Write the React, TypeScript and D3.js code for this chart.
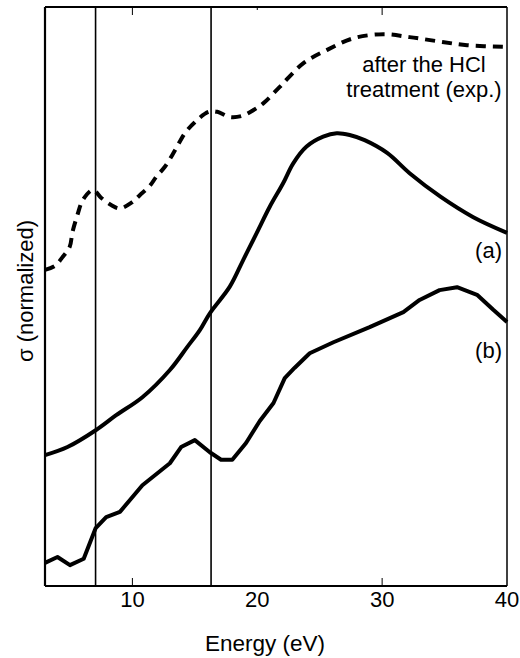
import React, { useEffect, useRef } from 'react';
import * as d3 from 'd3';

// energy (eV) / normalized sigma
const expEnergy = [3.0, 3.8, 4.44, 4.98, 5.2, 5.6, 6.04, 6.84, 7.51, 8.3, 8.98, 9.92, 10.59, 11.39, 11.92, 12.6, 13.4, 14.2, 15.0, 16.1, 16.8, 17.8, 18.8, 19.7, 20.5, 21.8, 23.7, 25.6, 27.7, 30.1, 32.2, 34.4, 36.8, 40.0];
const expSigma = [54.6, 55.3, 56.9, 58.6, 61.1, 64.1, 66.7, 68.4, 67.0, 65.8, 65.2, 66.2, 67.5, 69.1, 70.7, 72.4, 75.2, 78.2, 80.1, 81.9, 81.9, 81.0, 81.2, 82.2, 83.4, 86.2, 90.3, 92.6, 94.6, 95.3, 94.8, 94.1, 93.4, 93.1];

const aEnergy = [3.0, 4.8, 7.06, 8.7, 10.8, 13.0, 14.4, 15.4, 16.2, 17.8, 18.87, 19.94, 21.0, 22.08, 22.88, 23.95, 25.28, 26.36, 27.4, 28.6, 30.4, 32.2, 34.7, 37.3, 40.0];
const aSigma = [22.6, 24.0, 26.9, 29.5, 32.6, 37.3, 41.3, 44.2, 47.1, 51.7, 56.3, 60.9, 65.5, 69.6, 73.0, 75.9, 77.6, 78.2, 77.9, 77.0, 74.8, 71.3, 67.2, 63.7, 61.0];

const bEnergy = [3.0, 4.0, 5.0, 6.1, 7.06, 7.9, 9.0, 10.8, 13.0, 13.9, 15.0, 16.2, 17.1, 18.0, 19.1, 20.2, 21.3, 22.2, 23.0, 24.2, 26.1, 29.0, 31.7, 33.0, 34.6, 36.0, 37.6, 38.9, 40.0];
const bSigma = [4.0, 5.0, 3.6, 4.7, 10.0, 11.9, 12.8, 17.4, 21.2, 24.0, 25.2, 23.1, 21.8, 21.8, 24.7, 28.5, 31.6, 35.9, 37.7, 40.2, 42.1, 44.7, 47.3, 49.4, 51.1, 51.6, 50.3, 47.7, 45.6];

const markerLines = [7.05, 16.3];
const xTicks = [10, 20, 30, 40];
const innerTicks = [10, 20, 30];

const W = 520;
const H = 658;
const FONT = '"Liberation Sans", Arial, Helvetica, sans-serif';

const App = () => {
  const ref = useRef<SVGSVGElement>(null);

  useEffect(() => {
    const svg = d3.select(ref.current);
    svg.selectAll('*').remove();

    const margin = { top: 7, right: 13, bottom: 72, left: 45 };
    const x = d3.scaleLinear().domain([3, 40]).range([margin.left, W - margin.right]);
    const y = d3.scaleLinear().domain([0, 100]).range([H - margin.bottom, margin.top]);
    const [x0, x1] = x.range();
    const [yb, yt] = y.range();

    // marker lines
    svg.selectAll('.marker')
      .data(markerLines)
      .enter()
      .append('line')
      .attr('x1', d => x(d)).attr('x2', d => x(d))
      .attr('y1', yt).attr('y2', yb)
      .attr('stroke', '#000')
      .attr('stroke-width', 1.6);

    // inner ticks, top and bottom
    innerTicks.forEach(t => {
      svg.append('line')
        .attr('x1', x(t)).attr('x2', x(t))
        .attr('y1', yt).attr('y2', yt + (t === 20 ? 3 : 8))
        .attr('stroke', '#000').attr('stroke-width', 1);
      if (t !== 20) {
        svg.append('line')
          .attr('x1', x(t)).attr('x2', x(t))
          .attr('y1', yb).attr('y2', yb - 8)
          .attr('stroke', '#000').attr('stroke-width', 1);
      }
    });

    const expPts = expEnergy.map((e, i) => [x(e), y(expSigma[i])] as [number, number]);
    const aPts = aEnergy.map((e, i) => [x(e), y(aSigma[i])] as [number, number]);
    const bPts = bEnergy.map((e, i) => [x(e), y(bSigma[i])] as [number, number]);

    const curved = d3.line().curve(d3.curveCatmullRom.alpha(0.5));
    const straight = d3.line();

    svg.append('path')
      .attr('d', curved(expPts))
      .attr('fill', 'none')
      .attr('stroke', '#000')
      .attr('stroke-width', 4)
      .attr('stroke-dasharray', '10,7');

    svg.append('path')
      .attr('d', curved(aPts))
      .attr('fill', 'none')
      .attr('stroke', '#000')
      .attr('stroke-width', 4);

    svg.append('path')
      .attr('d', straight(bPts))
      .attr('fill', 'none')
      .attr('stroke', '#000')
      .attr('stroke-linejoin', 'round')
      .attr('stroke-width', 4);

    // frame
    svg.append('line').attr('x1', x0).attr('x2', x1).attr('y1', yt).attr('y2', yt)
      .attr('stroke', '#000').attr('stroke-width', 2.2);
    svg.append('line').attr('x1', x0).attr('x2', x1).attr('y1', yb).attr('y2', yb)
      .attr('stroke', '#000').attr('stroke-width', 2.2);
    svg.append('line').attr('x1', x0).attr('x2', x0).attr('y1', yt).attr('y2', yb)
      .attr('stroke', '#000').attr('stroke-width', 2.2);
    svg.append('line').attr('x1', x1).attr('x2', x1).attr('y1', yt).attr('y2', yb)
      .attr('stroke', '#000').attr('stroke-width', 1.5);

    // tick labels
    svg.selectAll('.tl')
      .data(xTicks)
      .enter()
      .append('text')
      .attr('x', d => x(d))
      .attr('y', yb + 21)
      .attr('text-anchor', 'middle')
      .style('font-family', FONT)
      .style('font-size', '22px')
      .text(d => d);

    svg.append('text')
      .attr('x', 265).attr('y', 651)
      .attr('text-anchor', 'middle')
      .style('font-family', FONT).style('font-size', '22.5px')
      .text('Energy (eV)');

    svg.append('text')
      .attr('transform', `translate(33,${291}) rotate(-90)`)
      .attr('text-anchor', 'middle')
      .style('font-family', FONT).style('font-size', '22px')
      .text('σ (normalized)');

    svg.append('text')
      .attr('x', 424).attr('y', 72)
      .attr('text-anchor', 'middle')
      .style('font-family', FONT).style('font-size', '22px')
      .text('after the HCl');
    svg.append('text')
      .attr('x', 424).attr('y', 97)
      .attr('text-anchor', 'middle')
      .style('font-family', FONT).style('font-size', '22px')
      .text('treatment (exp.)');

    svg.append('text')
      .attr('x', 502).attr('y', 258)
      .attr('text-anchor', 'end')
      .style('font-family', FONT).style('font-size', '22px')
      .text('(a)');
    svg.append('text')
      .attr('x', 502).attr('y', 358)
      .attr('text-anchor', 'end')
      .style('font-family', FONT).style('font-size', '22px')
      .text('(b)');
  }, []);

  return (
    <svg
      ref={ref}
      width={W}
      height={H}
      style={{ position: 'absolute', left: 0, top: 0, background: '#fff' }}
    />
  );
};

export default App;
